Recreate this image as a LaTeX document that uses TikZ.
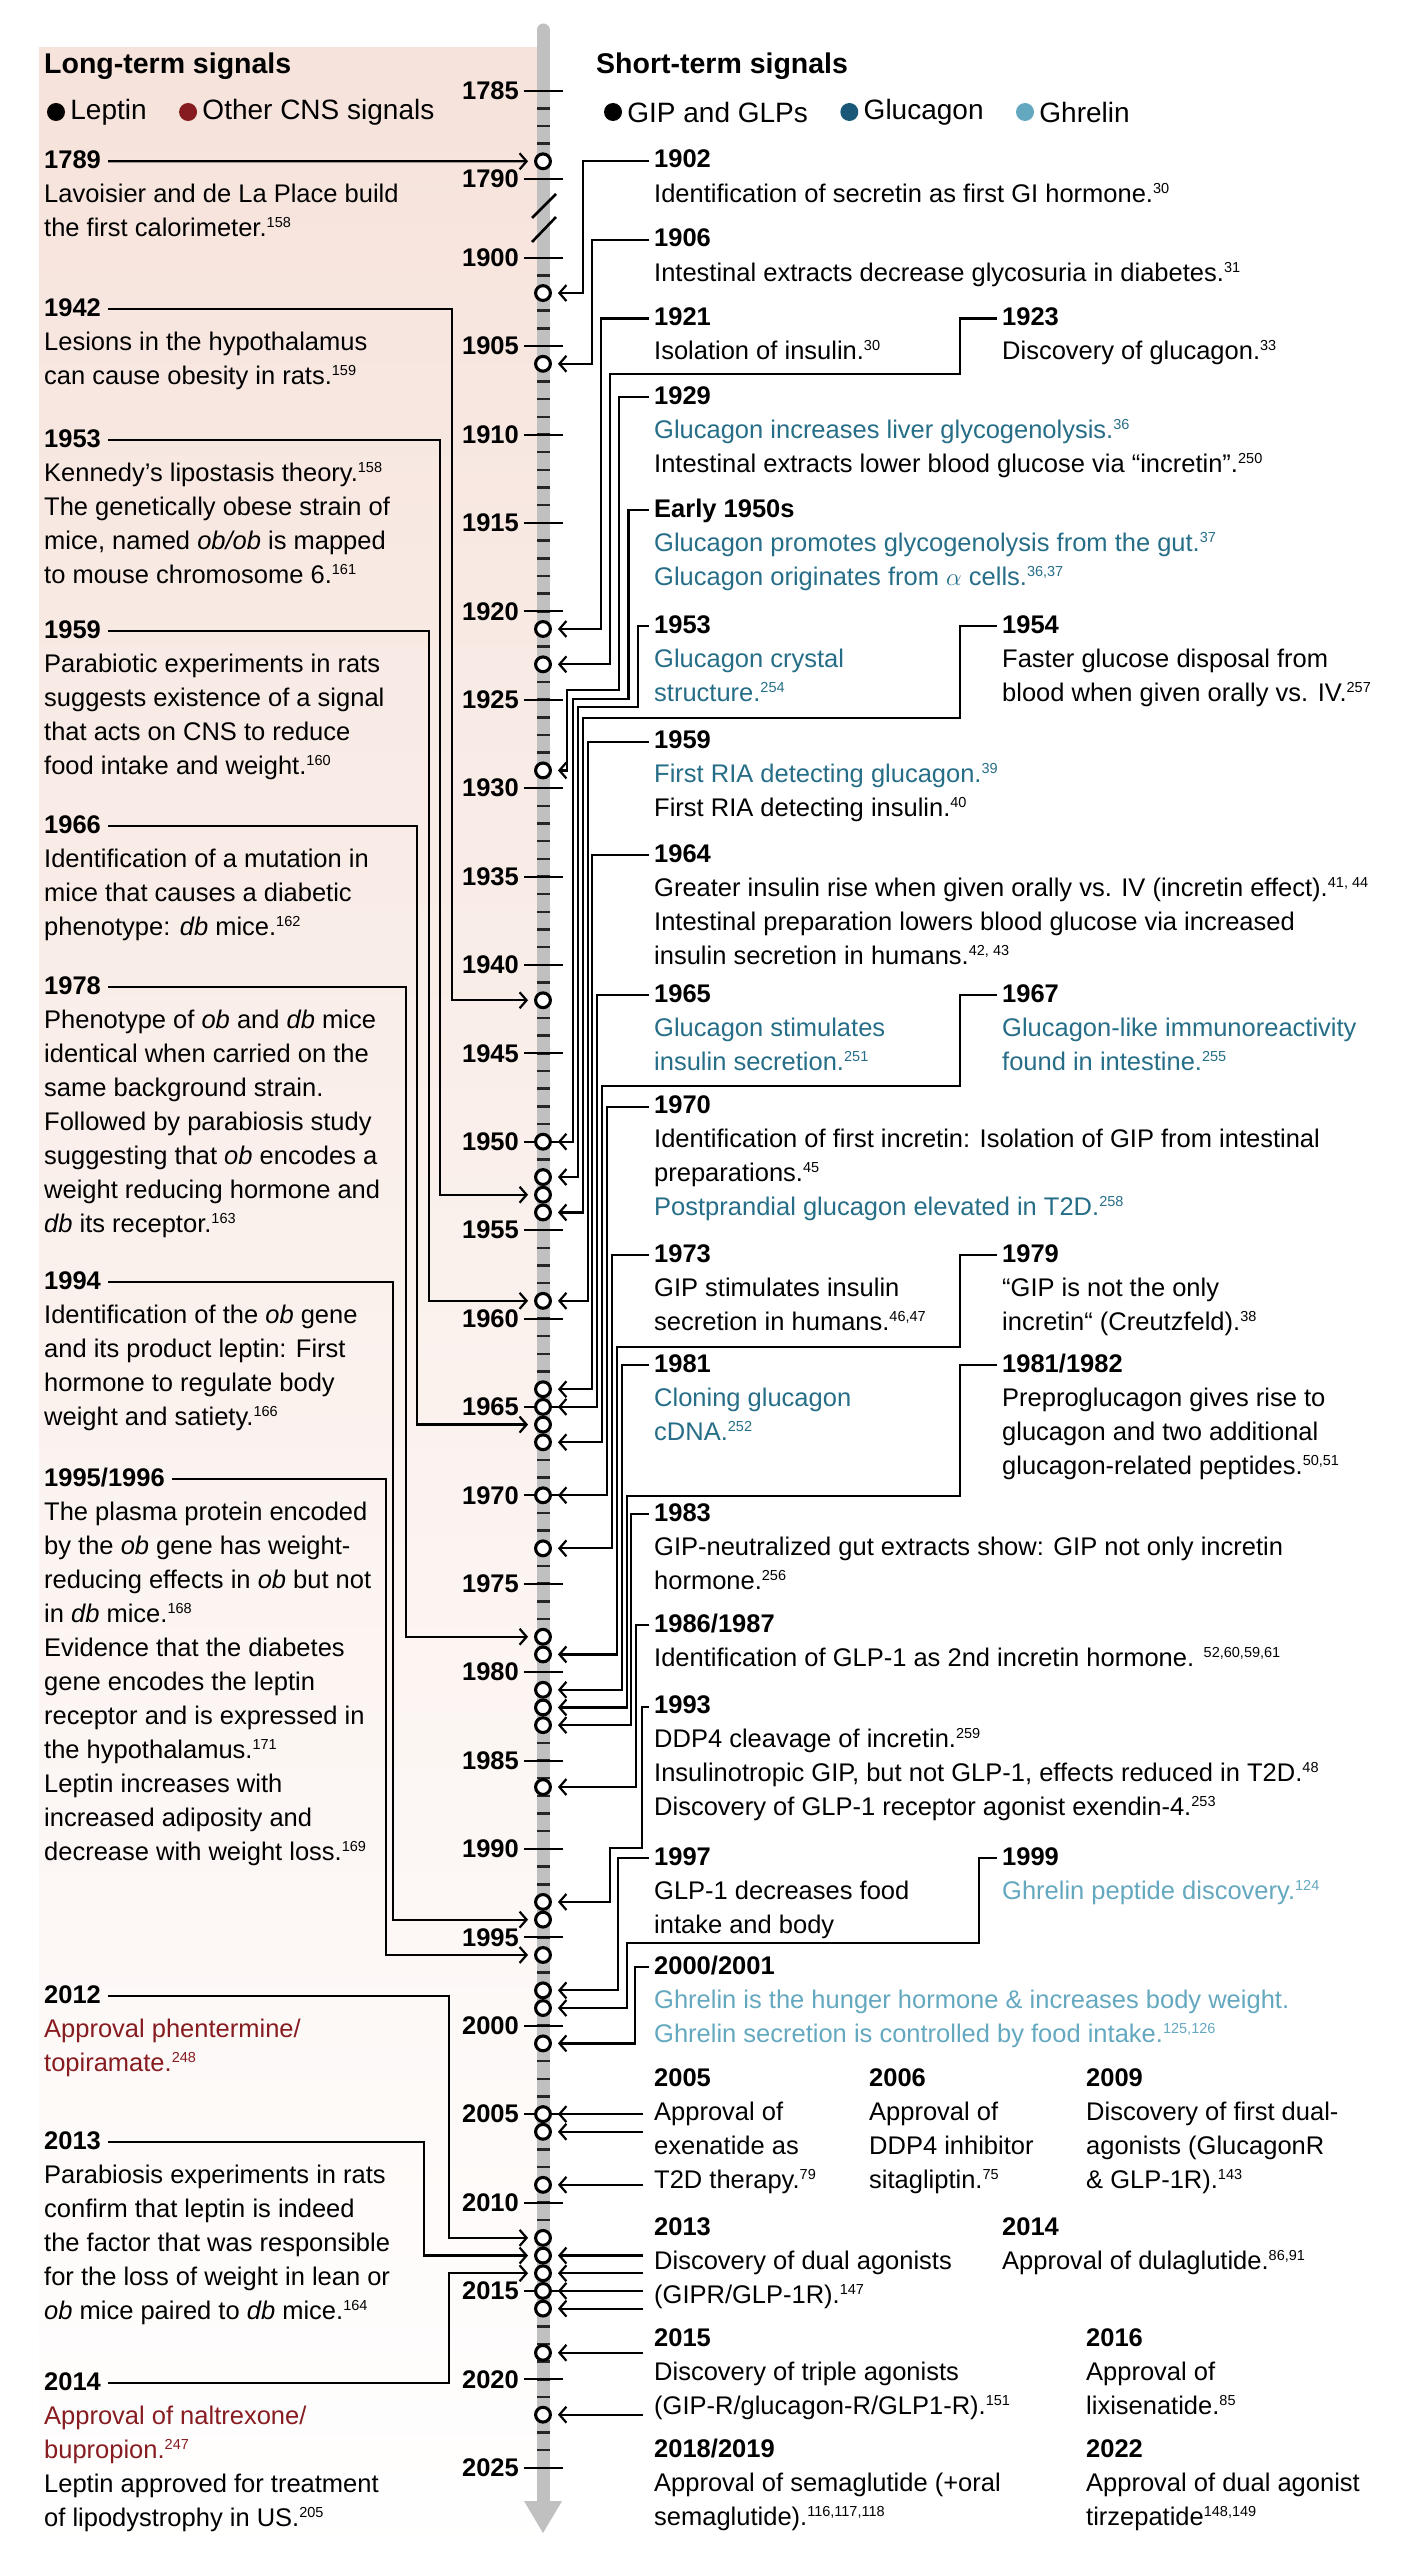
\documentclass[tikz,border=0pt]{standalone}
\usepackage{fontspec}
\setmainfont{Liberation Sans}
\usepackage{tikz}
\usetikzlibrary{positioning, arrows.meta}

\definecolor{bgpink}{RGB}{246,227,219}
\definecolor{axisgrey}{RGB}{192,192,192}
\definecolor{glucol}{RGB}{38,110,135}
\definecolor{glucdot}{RGB}{25,88,118}
\definecolor{ghrcol}{RGB}{100,168,192}
\definecolor{cnscol}{RGB}{135,28,32}

\newcommand\refn[1]{\raisebox{9pt}{\fontsize{14.5}{14}\selectfont #1}}

\begin{document}
\begin{tikzpicture}[x=1pt, y=-1pt,
    declare function={yr(\t)=(\t<1800)?(90.6+(\t-1785)*17.68):(257.7+(\t-1900)*17.68);},
    yrmark/.style={circle, draw=black, line width=3.1pt, fill=white, minimum size=14.8pt, inner sep=0pt},
    majortick/.style={line width=2pt},
    minortick/.style={line width=2.5pt, black!85},
    ticklab/.style={font=\fontsize{25.5}{34}\selectfont\bfseries, anchor=east, inner sep=0pt},
    yearhead/.style={font=\fontsize{25.5}{34}\selectfont\bfseries, inner sep=0pt, anchor=west, text height=24pt, text depth=10pt},
    body/.style={font=\fontsize{25.5}{34}\selectfont, inner sep=0pt, align=left, anchor=north west},
    title/.style={font=\fontsize{28.5}{34}\selectfont\bfseries, inner sep=0pt, anchor=west},
    legtxt/.style={font=\fontsize{28}{34}\selectfont, inner sep=0pt},
    legdot/.style={circle, minimum size=18pt, inner sep=0pt},
    arr/.style={line width=2.2pt, -{Straight Barb[length=7pt,width=16pt]}, shorten >=6pt, shorten <=5pt},
    arrl/.style={arr, shorten <=7pt}
  ]
  \useasboundingbox (0,0) rectangle (1406,2574);

  % background of the long-term side
  \shade[top color=bgpink, bottom color=white] (39,48) rectangle (537,2574);

  % time axis
  \draw[axisgrey, line width=13pt, line cap=round] (543,30) -- (543,2503);
  \fill[axisgrey] (524,2501) -- (562,2501) -- (543,2533) -- cycle;
  \foreach \y in {1786,...,1789} \draw[minortick] (537,{yr(\y)}) -- (550,{yr(\y)});
  \foreach \y in {1901,...,2024} \draw[minortick] (537,{yr(\y)}) -- (550,{yr(\y)});
  \foreach \y in {1785,1790,1900,1905,...,2025} {
    \draw[majortick] (524,{yr(\y)}) -- (563,{yr(\y)});
    \node[ticklab] (y\y) at (519,{yr(\y)}) {\y};
  }
  \draw[line width=2.6pt] (532,218) -- (556,194) (532,242) -- (556,217);

  % event marks
  \foreach \y in {1789,1902,1906,1921,1923,1929,1942,1950,1952,1953,1954,1959,1964,1965,1966,1967,1970,1973,1978,1979,1981,1982,1983,1993,1994,1996,1998,1999,2001,2005,2006,2009,2012,2013,2014,2015,2016,2022}
    \node[yrmark] (c\y) at (543,{yr(\y)}) {};
  \node[yrmark] (c1986) at (543,{yr(1986.5)}) {};
  \node[yrmark] (c2018) at (543,{yr(2018.5)}) {};

  % headers and legends
  \node[title] (tLong) at (44,66) {Long-term signals};
  \node[legdot, fill=black] (dLep) at (56,112) {};
  \node[legtxt, right=5pt of dLep] (tLep) {Leptin};
  \node[legdot, fill=cnscol, right=32pt of tLep] (dCns) {};
  \node[legtxt, right=5pt of dCns] (tCns) {Other CNS signals};

  \node[title] (tShort) at (596,66) {Short-term signals};
  \node[legdot, fill=black] (dGip) at (613,112) {};
  \node[legtxt, right=5pt of dGip] (tGip) {GIP and GLPs};
  \node[legdot, fill=glucdot, right=32pt of tGip] (dGlu) {};
  \node[legtxt, right=5pt of dGlu] (tGlu) {Glucagon};
  \node[legdot, fill=ghrcol, right=32pt of tGlu] (dGhr) {};
  \node[legtxt, right=5pt of dGhr] (tGhr) {Ghrelin};

  % long-term events
  \node[yearhead] (hl1789) at (44,161.3) {1789};
  \node[body] (bl1789) at (hl1789.south west) {\strut Lavoisier and de La Place build\\the first calorimeter.\refn{158}};
  \node[yearhead] (hl1942) at (44,309) {1942};
  \node[body] (bl1942) at (hl1942.south west) {\strut Lesions in the hypothalamus\\can cause obesity in rats.\refn{159}};
  \node[yearhead] (hl1953) at (44,440) {1953};
  \node[body] (bl1953) at (hl1953.south west) {\strut Kennedy's lipostasis theory.\refn{158}\\The genetically obese strain of\\mice, named \textit{ob/ob} is mapped\\to mouse chromosome 6.\refn{161}};
  \node[yearhead] (hl1959) at (44,631) {1959};
  \node[body] (bl1959) at (hl1959.south west) {\strut Parabiotic experiments in rats\\suggests existence of a signal\\that acts on CNS to reduce\\food intake and weight.\refn{160}};
  \node[yearhead] (hl1966) at (44,826) {1966};
  \node[body] (bl1966) at (hl1966.south west) {\strut Identification of a mutation in\\mice that causes a diabetic\\phenotype: \textit{db} mice.\refn{162}};
  \node[yearhead] (hl1978) at (44,987) {1978};
  \node[body] (bl1978) at (hl1978.south west) {\strut Phenotype of \textit{ob} and \textit{db} mice\\identical when carried on the\\same background strain.\\Followed by parabiosis study\\suggesting that \textit{ob} encodes a\\weight reducing hormone and\\\textit{db} its receptor.\refn{163}};
  \node[yearhead] (hl1994) at (44,1282) {1994};
  \node[body] (bl1994) at (hl1994.south west) {\strut Identification of the \textit{ob} gene\\and its product leptin: First\\hormone to regulate body\\weight and satiety.\refn{166}};
  \node[yearhead] (hl1995) at (44,1479) {1995/1996};
  \node[body] (bl1995) at (hl1995.south west) {\strut The plasma protein encoded\\by the \textit{ob} gene has weight-\\reducing effects in \textit{ob} but not\\in \textit{db} mice.\refn{168}\\Evidence that the diabetes\\gene encodes the leptin\\receptor and is expressed in\\the hypothalamus.\refn{171}\\Leptin increases with\\increased adiposity and\\decrease with weight loss.\refn{169}};
  \node[yearhead] (hl2012) at (44,1996) {2012};
  \node[body, text=cnscol] (bl2012) at (hl2012.south west) {\strut Approval phentermine/\\topiramate.\refn{248}};
  \node[yearhead] (hl2013) at (44,2142) {2013};
  \node[body] (bl2013) at (hl2013.south west) {\strut Parabiosis experiments in rats\\confirm that leptin is indeed\\the factor that was responsible\\for the loss of weight in lean or\\\textit{ob} mice paired to \textit{db} mice.\refn{164}};
  \node[yearhead] (hl2014) at (44,2383) {2014};
  \node[body] (bl2014) at (hl2014.south west) {\strut\textcolor{cnscol}{Approval of naltrexone/}\\\textcolor{cnscol}{bupropion.\refn{247}}\\Leptin approved for treatment\\of lipodystrophy in US.\refn{205}};

  % short-term events
  \node[yearhead] (h1902) at (654,161) {1902};
  \node[body] (b1902) at (h1902.south west) {\strut Identification of secretin as first GI hormone.\refn{30}};
  \node[yearhead] (h1906) at (654,240) {1906};
  \node[body] (b1906) at (h1906.south west) {\strut Intestinal extracts decrease glycosuria in diabetes.\refn{31}};
  \node[yearhead] (h1921) at (654,318.5) {1921};
  \node[body] (b1921) at (h1921.south west) {\strut Isolation of insulin.\refn{30}};
  \node[yearhead] (h1923) at (1002,318.5) {1923};
  \node[body] (b1923) at (h1923.south west) {\strut Discovery of glucagon.\refn{33}};
  \node[yearhead] (h1929) at (654,397) {1929};
  \node[body] (b1929) at (h1929.south west) {\strut\textcolor{glucol}{Glucagon increases liver glycogenolysis.\refn{36}}\\Intestinal extracts lower blood glucose via “incretin”.\refn{250}};
  \node[yearhead] (hE50) at (654,510) {Early 1950s};
  \node[body, text=glucol] (bE50) at (hE50.south west) {\strut Glucagon promotes glycogenolysis from the gut.\refn{37}\\Glucagon originates from $\alpha$ cells.\refn{36,37}};
  \node[yearhead] (h1953) at (654,626) {1953};
  \node[body, text=glucol] (b1953) at (h1953.south west) {\strut Glucagon crystal\\structure.\refn{254}};
  \node[yearhead] (h1954) at (1002,626) {1954};
  \node[body] (b1954) at (h1954.south west) {\strut Faster glucose disposal from\\blood when given orally vs. IV.\refn{257}};
  \node[yearhead] (h1959) at (654,741.7) {1959};
  \node[body] (b1959) at (h1959.south west) {\strut\textcolor{glucol}{First RIA detecting glucagon.\refn{39}}\\First RIA detecting insulin.\refn{40}};
  \node[yearhead] (h1964) at (654,855) {1964};
  \node[body] (b1964) at (h1964.south west) {\strut Greater insulin rise when given orally vs. IV (incretin effect).\refn{41, 44}\\Intestinal preparation lowers blood glucose via increased\\insulin secretion in humans.\refn{42, 43}};
  \node[yearhead] (h1965) at (654,995) {1965};
  \node[body, text=glucol] (b1965) at (h1965.south west) {\strut Glucagon stimulates\\insulin secretion.\refn{251}};
  \node[yearhead] (h1967) at (1002,995) {1967};
  \node[body, text=glucol] (b1967) at (h1967.south west) {\strut Glucagon-like immunoreactivity\\found in intestine.\refn{255}};
  \node[yearhead] (h1970) at (654,1106.7) {1970};
  \node[body] (b1970) at (h1970.south west) {\strut Identification of first incretin: Isolation of GIP from intestinal\\preparations.\refn{45}\\\textcolor{glucol}{Postprandial glucagon elevated in T2D.\refn{258}}};
  \node[yearhead] (h1973) at (654,1255) {1973};
  \node[body] (b1973) at (h1973.south west) {\strut GIP stimulates insulin\\secretion in humans.\refn{46,47}};
  \node[yearhead] (h1979) at (1002,1255) {1979};
  \node[body] (b1979) at (h1979.south west) {\strut “GIP is not the only\\incretin“ (Creutzfeld).\refn{38}};
  \node[yearhead] (h1981) at (654,1365) {1981};
  \node[body, text=glucol] (b1981) at (h1981.south west) {\strut Cloning glucagon\\cDNA.\refn{252}};
  \node[yearhead] (h1982) at (1002,1365) {1981/1982};
  \node[body] (b1982) at (h1982.south west) {\strut Preproglucagon gives rise to\\glucagon and two additional\\glucagon-related peptides.\refn{50,51}};
  \node[yearhead] (h1983) at (654,1514) {1983};
  \node[body] (b1983) at (h1983.south west) {\strut GIP-neutralized gut extracts show: GIP not only incretin\\hormone.\refn{256}};
  \node[yearhead] (h1986) at (654,1625) {1986/1987};
  \node[body] (b1986) at (h1986.south west) {\strut Identification of GLP-1 as 2nd incretin hormone. \refn{52,60,59,61}};
  \node[yearhead] (h1993) at (654,1706.7) {1993};
  \node[body] (b1993) at (h1993.south west) {\strut DDP4 cleavage of incretin.\refn{259}\\Insulinotropic GIP, but not GLP-1, effects reduced in T2D.\refn{48}\\Discovery of GLP-1 receptor agonist exendin-4.\refn{253}};
  \node[yearhead] (h1997) at (654,1858.3) {1997};
  \node[body] (b1997) at (h1997.south west) {\strut GLP-1 decreases food\\intake and body};
  \node[yearhead] (h1999) at (1002,1858.3) {1999};
  \node[body, text=ghrcol] (b1999) at (h1999.south west) {\strut Ghrelin peptide discovery.\refn{124}};
  \node[yearhead] (h2000) at (654,1967.3) {2000/2001};
  \node[body, text=ghrcol] (b2000) at (h2000.south west) {\strut Ghrelin is the hunger hormone \& increases body weight.\\Ghrelin secretion is controlled by food intake.\refn{125,126}};
  \node[yearhead] (h2005) at (654,2079.3) {2005};
  \node[body] (b2005) at (h2005.south west) {\strut Approval of\\exenatide as\\T2D therapy.\refn{79}};
  \node[yearhead] (h2006) at (869,2079.3) {2006};
  \node[body] (b2006) at (h2006.south west) {\strut Approval of\\DDP4 inhibitor\\sitagliptin.\refn{75}};
  \node[yearhead] (h2009) at (1086,2079.3) {2009};
  \node[body] (b2009) at (h2009.south west) {\strut Discovery of first dual-\\agonists (GlucagonR\\\& GLP-1R).\refn{143}};
  \node[yearhead] (h2013) at (654,2228.3) {2013};
  \node[body] (b2013) at (h2013.south west) {\strut Discovery of dual agonists\\(GIPR/GLP-1R).\refn{147}};
  \node[yearhead] (h2014) at (1002,2228.3) {2014};
  \node[body] (b2014) at (h2014.south west) {\strut Approval of dulaglutide.\refn{86,91}};
  \node[yearhead] (h2015) at (654,2339) {2015};
  \node[body] (b2015) at (h2015.south west) {\strut Discovery of triple agonists\\(GIP-R/glucagon-R/GLP1-R).\refn{151}};
  \node[yearhead] (h2016) at (1086,2339) {2016};
  \node[body] (b2016) at (h2016.south west) {\strut Approval of\\lixisenatide.\refn{85}};
  \node[yearhead] (h2018) at (654,2450.7) {2018/2019};
  \node[body] (b2018) at (h2018.south west) {\strut Approval of semaglutide (+oral\\semaglutide).\refn{116,117,118}};
  \node[yearhead] (h2022) at (1086,2450.7) {2022};
  \node[body] (b2022) at (h2022.south west) {\strut Approval of dual agonist\\tirzepatide\refn{148,149}};

  % connectors, long-term side
  \draw[arrl] (hl1789.east) -- (c1789);
  \draw[arrl] (hl1942.east) -| (451.7,{yr(1942)}) -- (c1942);
  \draw[arrl] (hl1953.east) -| (440,{yr(1953)}) -- (c1953);
  \draw[arrl] (hl1959.east) -| (429.3,{yr(1959)}) -- (c1959);
  \draw[arrl] (hl1966.east) -| (417.3,{yr(1966)}) -- (c1966);
  \draw[arrl] (hl1978.east) -| (405.7,{yr(1978)}) -- (c1978);
  \draw[arrl] (hl1994.east) -| (393.3,{yr(1994)}) -- (c1994);
  \draw[arrl] (hl1995.east) -| (386,{yr(1996)}) -- (c1996);
  \draw[arrl] (hl2012.east) -| (449.3,{yr(2012)}) -- (c2012);
  \draw[arrl] (hl2013.east) -| (424.3,{yr(2013)}) -- (c2013);
  \draw[arrl] (hl2014.east) -| (449.3,{yr(2014)}) -- (c2014);

  % connectors, short-term side
  \draw[arr] (h1902.west) -| (582.7,{yr(1902)}) -- (c1902);
  \draw[arr] (h1906.west) -| (591.7,{yr(1906)}) -- (c1906);
  \draw[arr] (h1921.west) -| (600.7,{yr(1921)}) -- (c1921);
  \draw[arr] (h1923.west) -| (960,374) -| (610,{yr(1923)}) -- (c1923);
  \draw[arr] (h1929.west) -| (619.3,690) -| (566.7,{yr(1929)}) -- (c1929);
  \draw[arr] (hE50.west) -| (628.4,699) -| (573.3,{yr(1950)}) -- (c1950);
  \draw[arr] (h1953.west) -| (638.3,707) -| (578.3,{yr(1952)}) -- (c1952);
  \draw[arr] (h1954.west) -| (960,718) -| (582.7,{yr(1954)}) -- (c1954);
  \draw[arr] (h1959.west) -| (587.7,{yr(1959)}) -- (c1959);
  \draw[arr] (h1964.west) -| (592.3,{yr(1964)}) -- (c1964);
  \draw[arr] (h1965.west) -| (597.3,{yr(1965)}) -- (c1965);
  \draw[arr] (h1967.west) -| (960,1086) -| (602.3,{yr(1967)}) -- (c1967);
  \draw[arr] (h1970.west) -| (607.3,{yr(1970)}) -- (c1970);
  \draw[arr] (h1973.west) -| (611.7,{yr(1973)}) -- (c1973);
  \draw[arr] (h1979.west) -| (960,1346.7) -| (616.7,{yr(1979)}) -- (c1979);
  \draw[arr] (h1981.west) -| (621.7,{yr(1981)}) -- (c1981);
  \draw[arr] (h1982.west) -| (960,1496) -| (626.7,{yr(1982)}) -- (c1982);
  \draw[arr] (h1983.west) -| (630.7,{yr(1983)}) -- (c1983);
  \draw[arr] (h1986.west) -| (636,{yr(1986.5)}) -- (c1986);
  \draw[arr] (h1993.west) -| (641.7,1848.3) -| (610,{yr(1993)}) -- (c1993);
  \draw[arr] (h1997.west) -| (618.3,{yr(1998)}) -- (c1998);
  \draw[arr] (h1999.west) -| (979,1943.3) -| (626.7,{yr(1999)}) -- (c1999);
  \draw[arr] (h2000.west) -| (635,{yr(2001)}) -- (c2001);
  \foreach \nm/\yv in {2005/2005,2006/2006,2009/2009,2013/2013,2014/2014,2015/2015,2016/2016,2018/2018.5,2022/2022} {
    \coordinate (s\nm) at (643,{yr(\yv)});
    \draw[arr, shorten <=0pt] (s\nm) -- (c\nm);
  }
\end{tikzpicture}
\end{document}
